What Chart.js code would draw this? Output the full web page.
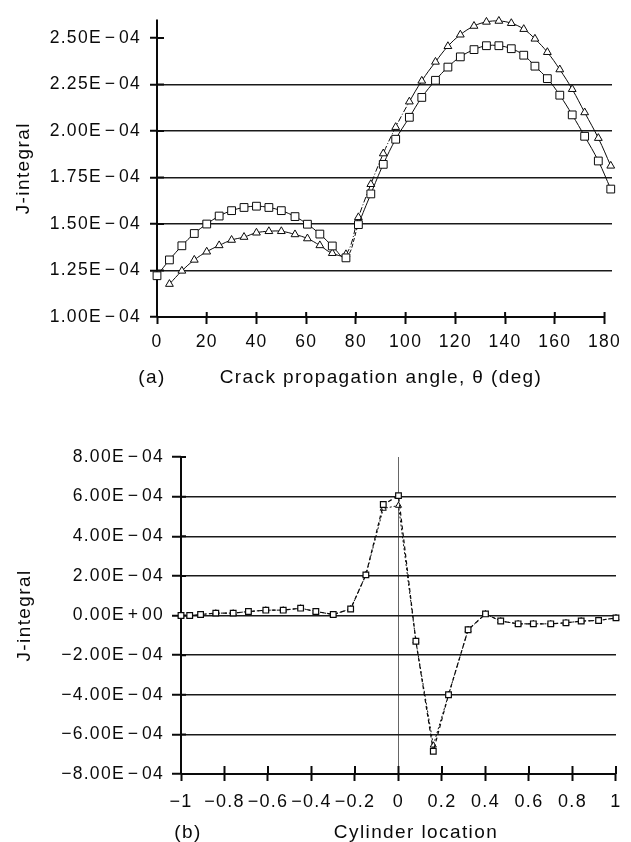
<!DOCTYPE html>
<html>
<head>
<meta charset="utf-8">
<title>J-integral charts</title>
<script src="https://cdn.jsdelivr.net/npm/chart.js@4.4.1/dist/chart.umd.min.js"></script>
<style>
  html, body { margin: 0; padding: 0; background: #fff; }
  body { width: 631px; height: 842px; position: relative; overflow: hidden; }
  .box { position: absolute; left: 0; }
  #boxA { top: 0; width: 631px; height: 400px; }
  #boxB { top: 430px; width: 631px; height: 412px; }
</style>
</head>
<body>
<div class="box" id="boxA"><canvas id="chartA" width="631" height="400"></canvas></div>
<div class="box" id="boxB"><canvas id="chartB" width="631" height="412"></canvas></div>
<script>
// ---- (a) J-integral vs crack propagation angle ----
const angleA = [0, 5, 10, 15, 20, 25, 30, 35, 40, 45, 50, 55.5, 60.5, 65.5, 70.5, 76, 81, 86, 91, 96,
  101.5, 106.5, 112, 117, 122, 127.5, 132.5, 137.5, 142.5, 147.5, 152, 157, 162, 167, 172, 177.5, 182.5];
// values in units of 1E-04
const squaresA = [1.222, 1.307, 1.383, 1.449, 1.50, 1.543, 1.572, 1.589, 1.596, 1.589, 1.572, 1.540, 1.499,
  1.446, 1.382, 1.318, 1.497, 1.662, 1.821, 1.956, 2.074, 2.181, 2.273, 2.344, 2.399, 2.438, 2.459, 2.459,
  2.443, 2.408, 2.349, 2.282, 2.193, 2.087, 1.972, 1.839, 1.688];
const trianglesA = [null, 1.177, 1.248, 1.307, 1.351, 1.385, 1.414, 1.430, 1.453, 1.461, 1.461, 1.444, 1.422,
  1.385, 1.343, 1.337, 1.536, 1.714, 1.879, 2.021, 2.158, 2.270, 2.372, 2.456, 2.518, 2.565, 2.587, 2.592,
  2.580, 2.548, 2.496, 2.424, 2.331, 2.225, 2.100, 1.962, 1.813];
const yTicksA = [1.0e-4, 1.25e-4, 1.5e-4, 1.75e-4, 2.0e-4, 2.25e-4, 2.5e-4];
const xTicksA = [0, 20, 40, 60, 80, 100, 120, 140, 160, 180];

// ---- (b) J-integral vs cylinder location ----
const locationB = [-1, -0.96, -0.91, -0.84, -0.76, -0.69, -0.61, -0.53, -0.45, -0.38, -0.3, -0.22, -0.15,
  -0.07, 0, 0.08, 0.16, 0.23, 0.32, 0.4, 0.47, 0.55, 0.62, 0.7, 0.77, 0.84, 0.92, 1];
const squaresB = [0, 0, 0.05, 0.12, 0.12, 0.2, 0.27, 0.27, 0.37, 0.2, 0.05, 0.33, 2.05, 5.6, 6.05, -1.3,
  -6.85, -4.0, -0.72, 0.08, -0.28, -0.42, -0.42, -0.42, -0.37, -0.28, -0.25, -0.12];
const trianglesB = [0, 0, 0.05, 0.12, 0.12, 0.2, 0.27, 0.27, 0.37, 0.2, 0.05, 0.33, 2.05, 5.4, 5.55, -1.3,
  -6.55, -4.0, -0.72, 0.08, -0.28, -0.42, -0.42, -0.42, -0.37, -0.28, -0.25, -0.12];
const yTicksB = [-8e-4, -6e-4, -4e-4, -2e-4, 0, 2e-4, 4e-4, 6e-4, 8e-4];
const xTicksB = [-1, -0.8, -0.6, -0.4, -0.2, 0, 0.2, 0.4, 0.6, 0.8, 1];

const INK = '#0a0a0a';
const FONT = '"Liberation Sans", Arial, sans-serif';
const HAIR = '\u200A';

Chart.defaults.font.family = FONT;
Chart.defaults.color = INK;

// 2.50E-04 style labels
function fmtE(v) {
  const parts = v.toExponential(2).split('e');
  let mant = parts[0];
  const exp = parseInt(parts[1], 10);
  if (mant.charAt(0) === '-') mant = '\u2212' + mant.slice(1);
  const sign = exp < 0 ? '\u2212' : '+';
  return mant + 'E' + HAIR + sign + HAIR + String(Math.abs(exp)).padStart(2, '0');
}
function fmtPlain(v) {
  return v < 0 ? '\u2212' + Math.abs(v) : String(v);
}
function toPoints(xs, ys) {
  return xs.map(function (x, i) {
    return { x: x, y: ys[i] === null ? null : ys[i] * 1e-4 };
  });
}

// axes lines, inner tick halves and axis captions
const framePlugin = {
  id: 'frame',
  beforeDraw: function (chart) {
    chart.ctx.letterSpacing = '1.3px';
  },
  beforeDatasetsDraw: function (chart, args, opts) {
    const ctx = chart.ctx, a = chart.chartArea, x = chart.scales.x, y = chart.scales.y;
    ctx.save();
    ctx.strokeStyle = INK;
    ctx.lineWidth = 2;
    ctx.beginPath();
    ctx.moveTo(a.left, a.top);
    ctx.lineTo(a.left, a.bottom);
    ctx.moveTo(a.left, a.bottom);
    ctx.lineTo(x.getPixelForValue(opts.xEnd), a.bottom);
    y.ticks.forEach(function (t) {
      const py = y.getPixelForValue(t.value);
      ctx.moveTo(a.left, py);
      ctx.lineTo(a.left + opts.inY, py);
    });
    x.ticks.forEach(function (t) {
      const px = x.getPixelForValue(t.value);
      ctx.moveTo(px, a.bottom);
      ctx.lineTo(px, a.bottom - opts.inX);
    });
    ctx.stroke();
    ctx.restore();
  },
  afterDraw: function (chart, args, opts) {
    const ctx = chart.ctx, a = chart.chartArea;
    ctx.save();
    ctx.letterSpacing = '1.4px';
    ctx.fillStyle = INK;
    ctx.font = '19px ' + FONT;
    ctx.textAlign = 'center';
    ctx.textBaseline = 'middle';
    ctx.fillText(opts.tag, opts.tagX, opts.captionY);
    ctx.fillText(opts.caption, opts.captionX, opts.captionY);
    ctx.translate(opts.yCaptionX, (a.top + a.bottom) / 2);
    ctx.rotate(-Math.PI / 2);
    ctx.fillText('J-integral', 0, 0);
    ctx.restore();
  }
};

function yGridColor(ticks) {
  return function (c) {
    const v = c.tick && c.tick.value;
    return (v === ticks[0] || v === ticks[ticks.length - 1]) ? 'rgba(0,0,0,0)' : '#1a1a1a';
  };
}

// chart (a)
new Chart(document.getElementById('chartA'), {
  type: 'line',
  data: {
    datasets: [{
      data: toPoints(angleA, squaresA),
      borderColor: INK,
      borderWidth: 1,
      tension: 0.4,
      pointStyle: 'rect',
      pointRadius: 5.5,
      pointBorderWidth: 1,
      pointBackgroundColor: '#fff',
      pointBorderColor: INK,
      clip: false,
      segment: {
        borderDash: function (c) { return c.p0DataIndex === 15 ? [4, 2] : undefined; }
      }
    }, {
      data: toPoints(angleA, trianglesA),
      borderColor: INK,
      borderWidth: 1,
      tension: 0.4,
      pointStyle: 'triangle',
      pointRadius: 4.5,
      pointBorderWidth: 1,
      pointBackgroundColor: '#fff',
      pointBorderColor: INK,
      clip: false,
      segment: {
        borderDash: function (c) { return (c.p0DataIndex >= 15 && c.p0DataIndex < 20) ? [6, 2, 1, 2] : undefined; }
      }
    }]
  },
  options: {
    responsive: false,
    animation: false,
    events: [],
    layout: { padding: { top: 16, right: 19, left: 0, bottom: 0 } },
    plugins: {
      legend: { display: false },
      tooltip: { enabled: false },
      frame: {
        xEnd: 180, inX: 5, inY: 7,
        tag: '(a)', tagX: 152, caption: 'Crack propagation angle, \u03B8 (deg)',
        captionX: 381, captionY: 378, yCaptionX: 24
      }
    },
    scales: {
      x: {
        type: 'linear', min: 0, max: 183,
        afterBuildTicks: function (s) { s.ticks = xTicksA.map(function (v) { return { value: v }; }); },
        afterFit: function (s) { s.height = 83; },
        border: { display: false },
        grid: { drawOnChartArea: false, drawTicks: true, tickLength: 7, tickColor: INK, tickWidth: 2 },
        ticks: { autoSkip: false, maxRotation: 0, padding: 8, font: { size: 17.5 }, color: INK }
      },
      y: {
        type: 'linear', min: 1.0e-4, max: 2.6e-4,
        afterBuildTicks: function (s) { s.ticks = yTicksA.map(function (v) { return { value: v }; }); },
        afterFit: function (s) { s.width = 157; },
        border: { display: false },
        grid: { color: yGridColor(yTicksA), lineWidth: 1.5, tickLength: 7, tickColor: INK, tickWidth: 2 },
        ticks: { padding: 9, font: { size: 17.5 }, color: INK, callback: function (v) { return fmtE(v); } }
      }
    }
  },
  plugins: [framePlugin]
});

// chart (b)
new Chart(document.getElementById('chartB'), {
  type: 'line',
  data: {
    datasets: [{
      data: toPoints(locationB, squaresB),
      borderColor: INK,
      borderWidth: 1.2,
      borderDash: [4, 3],
      tension: 0,
      pointStyle: 'rect',
      pointRadius: 4,
      pointBorderWidth: 1.2,
      pointBackgroundColor: '#fff',
      pointBorderColor: INK,
      clip: false
    }, {
      data: toPoints(locationB, trianglesB),
      borderColor: INK,
      borderWidth: 1,
      borderDash: [2, 2],
      tension: 0,
      pointStyle: 'triangle',
      pointRadius: 3.5,
      pointBorderWidth: 1,
      pointBackgroundColor: '#fff',
      pointBorderColor: INK,
      clip: false
    }]
  },
  options: {
    responsive: false,
    animation: false,
    events: [],
    layout: { padding: { top: 27, right: 13, left: 0, bottom: 0 } },
    plugins: {
      legend: { display: false },
      tooltip: { enabled: false },
      frame: {
        xEnd: 1, inX: 8, inY: 5,
        tag: '(b)', tagX: 188, caption: 'Cylinder location',
        captionX: 416, captionY: 403, yCaptionX: 25
      }
    },
    scales: {
      x: {
        type: 'linear', min: -1, max: 1,
        afterBuildTicks: function (s) { s.ticks = xTicksB.map(function (v) { return { value: v }; }); },
        afterFit: function (s) { s.height = 68; },
        border: { display: false },
        grid: {
          color: function (c) { return c.tick && c.tick.value === 0 ? '#666' : 'rgba(0,0,0,0)'; },
          lineWidth: 1, tickLength: 7, tickColor: INK, tickWidth: 2
        },
        ticks: { autoSkip: false, maxRotation: 0, padding: 10, font: { size: 18 }, color: INK,
          callback: function (v) { return fmtPlain(v); } }
      },
      y: {
        type: 'linear', min: -8e-4, max: 8e-4,
        afterBuildTicks: function (s) { s.ticks = yTicksB.map(function (v) { return { value: v }; }); },
        afterFit: function (s) { s.width = 181; },
        border: { display: false },
        grid: { color: yGridColor(yTicksB), lineWidth: 1.5, tickLength: 9, tickColor: INK, tickWidth: 2 },
        ticks: { padding: 8, font: { size: 17.5 }, color: INK, callback: function (v) { return fmtE(v); } }
      }
    }
  },
  plugins: [framePlugin]
});
</script>
</body>
</html>
